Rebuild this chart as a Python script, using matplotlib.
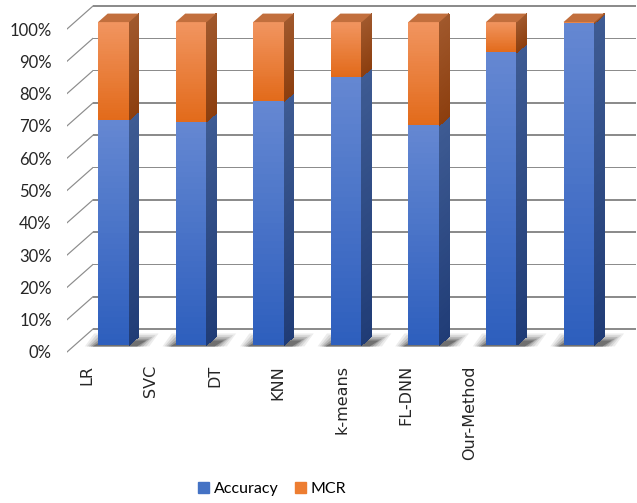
import matplotlib
matplotlib.use("Agg")
import matplotlib.pyplot as plt
import numpy as np
from matplotlib.colors import to_rgb
from matplotlib.collections import PolyCollection
from matplotlib.patches import Polygon, Patch

# data (stacked to 100%)
methods = ["LR", "SVC", "DT", "KNN", "k-means", "FL-DNN", "Our-Method"]
accuracy = [69.7, 69.2, 75.5, 83.1, 68.0, 90.6, 99.6]
mcr = [30.3, 30.8, 24.5, 16.9, 32.0, 9.4, 0.4]
yticks = [0, 10, 20, 30, 40, 50, 60, 70, 80, 90, 100]

W, H = 637, 503
PXX, PXY = 77.57, 3.23       # pixels per category / per percent (front plane)
fig = plt.figure(figsize=(W / 100, H / 100), dpi=100)
# axes spans the front plane of the 3-D box
ax = fig.add_axes([67 / W, 1 - 352 / H, 543 / W, 323 / H])
ax.set_xlim(-0.5, 6.5)
ax.set_ylim(0, 100)

# depth of the box (full) and bar placement inside it, in data units
DX, DY = 26 / PXX, 23 / PXY
f0, fd = 0.30, 0.37          # bar front depth, bar depth (fraction of DX/DY)
bw = 0.40
grid_c = "#8c8c8c"
lh = 1.6 / PXY               # grid line thickness (data units)

# back wall grid + left wall diagonals, drawn as thin filled strips
strips = []
for v in yticks:
    y = v + DY
    strips.append([(-0.5 + DX, y - lh / 2), (6.5 + DX, y - lh / 2),
                   (6.5 + DX, y + lh / 2), (-0.5 + DX, y + lh / 2)])
    strips.append([(-0.5, v - lh / 2), (-0.5 + DX, y - lh / 2),
                   (-0.5 + DX, y + lh / 2), (-0.5, v + lh / 2)])
grid = PolyCollection(strips, facecolors=grid_c, edgecolors="none", zorder=1)
grid.set_clip_on(False)
ax.add_collection(grid, autolim=False)


def shaded(x0, x1, yb, yt, skew, top_c, bot_c, z, n=40):
    """Vertical colour ramp drawn as thin slices; skew gives the side-face slant."""
    c0, c1 = np.array(to_rgb(bot_c)), np.array(to_rgb(top_c))
    edges = np.linspace(yb, yt, n + 1)
    polys, cols = [], []
    for k in range(n):
        a, b = edges[k], edges[k + 1]
        polys.append([(x0, a), (x1, a + skew), (x1, b + skew), (x0, b)])
        cols.append(c0 + (c1 - c0) * (k + 0.5) / n)
    pc = PolyCollection(polys, facecolors=cols, edgecolors="none",
                        antialiased=False, zorder=z)
    pc.set_clip_on(False)
    ax.add_collection(pc, autolim=False)


x = np.arange(len(methods))
ox, oy = f0 * DX, f0 * DY
sx, sy = fd * DX, fd * DY
acc = np.array(accuracy)
mc = np.array(mcr)

# floor shadows: opaque layers, light outside to dark near the bar foot
shadow_cols = ["#ececec", "#d6d6d6", "#bababa", "#999999", "#707070"]
for xi in x:
    xl, xr = xi + ox - bw / 2, xi + ox + bw / 2
    for k, c in enumerate(shadow_cols):
        sc = 1 - k * 0.15
        pts = [(xl - 0.17 * sc, oy - 0.4), (xr + 0.26 * sc, oy - 0.4),
               (xr + 0.26 * sc + 0.12, oy + 3.6 * sc), (xl - 0.17 * sc + 0.12, oy + 3.6 * sc)]
        ax.add_patch(Polygon(pts, closed=True, fc=c, ec="none",
                             zorder=2, clip_on=False))

segments = [
    (np.zeros(len(x)), acc, ("#6588d2", "#2d5ebd"), ("#3e5b93", "#203c76")),
    (acc, mc, ("#f19560", "#e26a1a"), ("#a0582c", "#8c3e0e")),
]

for bottom, vals, front_cols, side_cols in segments:
    bars = ax.bar(x + ox, vals, bw, bottom=bottom + oy, color=front_cols[1],
                  edgecolor="none", zorder=4)
    for r in bars:
        r.set_clip_on(False)
    for xi, b, v in zip(x, bottom, vals):
        if v <= 0:
            continue
        xl, xr = xi + ox - bw / 2, xi + ox + bw / 2
        yb, yt = b + oy, b + v + oy
        shaded(xl, xr, yb, yt, 0.0, front_cols[0], front_cols[1], 4.5)
        shaded(xr, xr + sx, yb, yt, sy, side_cols[0], side_cols[1], 4.5)

# top faces (orange cap on every bar)
for xi in x:
    xl, xr = xi + ox - bw / 2, xi + ox + bw / 2
    yt = 100 + oy
    ax.add_patch(Polygon([(xl, yt), (xl + sx, yt + sy), (xr + sx, yt + sy), (xr, yt)],
                         closed=True, fc="#c26f3d", ec="none", zorder=5,
                         clip_on=False))

ax.set_xlim(-0.5, 6.5)
ax.set_ylim(0, 100)
for s in ax.spines.values():
    s.set_visible(False)
ax.set_xticks([])
ax.set_yticks(yticks)
ax.set_yticklabels([f"{v}%" for v in yticks], fontsize=12, family="Lato",
                   color="#262626")
ax.tick_params(axis="y", length=0, pad=11)
ax.patch.set_alpha(0)

# category labels sit on the front edge of the floor
for i, name in enumerate(methods):
    px = 87 + 63.7 * i
    fig.text(px / W, 1 - 365 / H, name, rotation=90, ha="center", va="top",
             fontsize=11.5, family="DejaVu Sans", color="#262626")

handles = [Patch(color="#4472C4", label="Accuracy"),
           Patch(color="#ED7D31", label="MCR")]
fig.legend(handles=handles, loc="center", bbox_to_anchor=(272 / W, 1 - 489 / H),
           ncol=2, frameon=False, prop={"family": "Lato", "size": 11.5},
           handlelength=0.7, handleheight=0.7, handletextpad=0.3,
           columnspacing=1.0)

fig.savefig("out.png", dpi=100)
